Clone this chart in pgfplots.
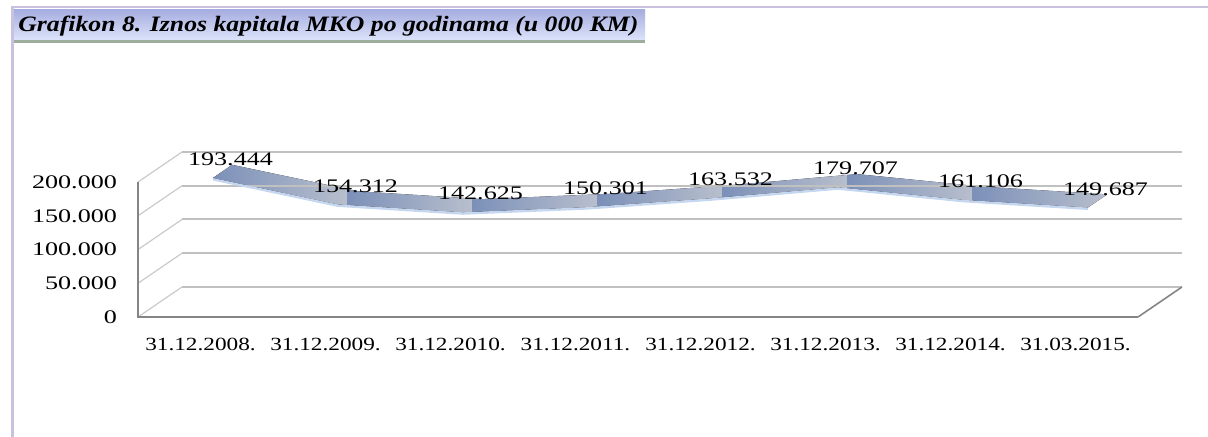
\documentclass[border=0pt]{standalone}
\usepackage{fontspec}
\setmainfont[FakeStretch=1.36]{Liberation Serif}
\newfontfamily\xlabfont[FakeStretch=1.25]{Liberation Serif}
\newfontfamily\titlefont[FakeStretch=1.17]{Liberation Serif}
\usepackage{pgfplots}
\usepgfplotslibrary{fillbetween}
\usepackage{pgfplotstable}
\pgfplotsset{compat=1.18}

\definecolor{framec}{HTML}{C9C1DD}
\definecolor{bantop}{HTML}{A7AEE0}
\definecolor{banbot}{HTML}{DCE3FA}
\definecolor{banline}{HTML}{9EAE9C}
\definecolor{gridc}{HTML}{C0C0C0}
\definecolor{sidec}{HTML}{CACACA}
\definecolor{axc}{HTML}{858585}
\definecolor{ribdark}{HTML}{7C90B8}
\definecolor{riblight}{HTML}{B8BFCD}
\definecolor{ribedge}{HTML}{C5D6F0}

% capital in 000 KM; depth of the 3D box: 0.352 in x, 44500 in y
\pgfplotstableread{
i v lab
0 193444 193.444
1 154312 154.312
2 142625 142.625
3 150301 150.301
4 163532 163.532
5 179707 179.707
6 161106 161.106
7 149687 149.687
}\capdata

\begin{document}
\begin{tikzpicture}
\path (0,0) rectangle (604pt,218.5pt);
% frame and title banner
\fill[framec] (5.5pt,214.5pt) rectangle (604pt,215.5pt);
\fill[framec] (5.5pt,0pt) rectangle (7pt,215.5pt);
\shade[top color=bantop, bottom color=banbot] (7pt,198.5pt) rectangle (322.5pt,213.5pt);
\fill[banline] (7pt,197pt) rectangle (322.5pt,198.5pt);
\node[anchor=west, font=\titlefont\fontsize{11}{12}\selectfont\bfseries\itshape, inner sep=0pt]
  at (9pt,205.5pt) {Grafikon 8. Iznos kapitala MKO po godinama (u 000 KM)};

\begin{axis}[
    at={(69pt,60pt)}, anchor=south west,
    scale only axis, width=522pt, height=82.5pt,
    xmin=0, xmax=8.352, ymin=0, ymax=244500,
    clip=false,
    axis line style={draw=none},
    major tick length=0pt, tick style={draw=none},
    scaled y ticks=false,
    xtick={0.5,1.5,...,7.5},
    xticklabels={31.12.2008.,31.12.2009.,31.12.2010.,31.12.2011.,31.12.2012.,31.12.2013.,31.12.2014.,31.03.2015.},
    ytick={0,50000,100000,150000,200000},
    yticklabels={0,50.000,100.000,150.000,200.000},
    /pgf/number format/assume math mode=true,
    yticklabel style={anchor=east, xshift=-7pt, font=\fontsize{9.6}{10}\selectfont},
    xticklabel style={anchor=north, yshift=-7pt, font=\xlabfont\fontsize{9.3}{10}\selectfont},
]
% back wall gridlines
\addplot[gridc, line width=1pt] coordinates {(0.352,44500) (8.352,44500)};
\addplot[gridc, line width=1pt] coordinates {(0.352,94500) (8.352,94500)};
\addplot[gridc, line width=1pt] coordinates {(0.352,144500) (8.352,144500)};
\addplot[gridc, line width=1pt] coordinates {(0.352,194500) (8.352,194500)};
\addplot[gridc, line width=1pt] coordinates {(0.352,244500) (8.352,244500)};
% side wall diagonals
\addplot[sidec, line width=0.6pt] coordinates {(0,0) (0.352,44500)};
\addplot[sidec, line width=0.6pt] coordinates {(0,50000) (0.352,94500)};
\addplot[sidec, line width=0.6pt] coordinates {(0,100000) (0.352,144500)};
\addplot[sidec, line width=0.6pt] coordinates {(0,150000) (0.352,194500)};
\addplot[sidec, line width=0.6pt] coordinates {(0,200000) (0.352,244500)};
% front edges of the box
\addplot[axc, line width=0.8pt] coordinates {(0,200000) (0,0) (8,0)};
\addplot[axc, line width=0.8pt] coordinates {(8,0) (8.352,44500)};

% ribbon
\addplot[ribedge, line width=1.1pt] table[x expr=\thisrow{i}+0.5986, y expr=\thisrow{v}+12460-2000] {\capdata};
\addplot[draw=none, name path=front] table[x expr=\thisrow{i}+0.5986, y expr=\thisrow{v}+12460] {\capdata};
\addplot[draw=none, name path=back] table[x expr=\thisrow{i}+0.7534, y expr=\thisrow{v}+32040] {\capdata};
\addplot[left color=ribdark, right color=riblight] fill between[of=front and back, soft clip={domain=0:1.676}];
\addplot[left color=ribdark, right color=riblight] fill between[of=front and back, soft clip={domain=1.676:2.676}];
\addplot[left color=ribdark, right color=riblight] fill between[of=front and back, soft clip={domain=2.676:3.676}];
\addplot[left color=ribdark, right color=riblight] fill between[of=front and back, soft clip={domain=3.676:4.676}];
\addplot[left color=ribdark, right color=riblight] fill between[of=front and back, soft clip={domain=4.676:5.676}];
\addplot[left color=ribdark, right color=riblight] fill between[of=front and back, soft clip={domain=5.676:6.676}];
\addplot[left color=ribdark, right color=riblight] fill between[of=front and back, soft clip={domain=6.676:9}];

% value labels
\addplot[draw=none, mark=none, nodes near coords, point meta=explicit symbolic,
    nodes near coords align={center},
    nodes near coords style={yshift=6pt, xshift=4pt, font=\fontsize{9.6}{10}\selectfont, text=black}]
    table[x expr=\thisrow{i}+0.676, y expr=\thisrow{v}+22250, meta=lab] {\capdata};
\end{axis}
\end{tikzpicture}
\end{document}
